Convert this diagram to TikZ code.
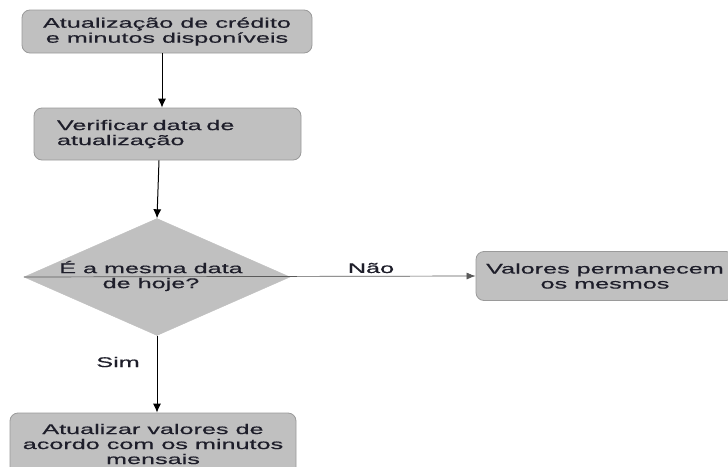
\documentclass[tikz,border=0pt]{standalone}
\usepackage{fontspec}
\setmainfont[FakeStretch=1.8,FakeBold=0.5]{Liberation Sans}
\usetikzlibrary{shapes.geometric,arrows.meta}
\definecolor{boxfill}{HTML}{C0C0C0}
\definecolor{boxline}{HTML}{9A9A9A}
\definecolor{ink}{HTML}{1E1E2A}
\definecolor{thinline}{HTML}{5A5A5A}
\begin{document}
\begin{tikzpicture}[x=1pt,y=1pt,
  txt/.style={font=\fontsize{14}{15}\selectfont, text=ink},
  box/.style={txt, draw=boxline, fill=boxfill, rounded corners=8pt, inner sep=0pt, line width=0.8pt},
  arr/.style={-{Latex[length=9pt,width=8pt]}, line width=1pt, black},
  thinarr/.style={-{Latex[length=9pt,width=7pt]}, line width=0.7pt, thinline}]
\clip (0,0) rectangle (728,-466);
\fill[white] (0,0) rectangle (728,-466);

% process boxes
\node[box, minimum width=290pt, minimum height=43pt, align=center] (upd) at (167,-31.5)
  {Atualização de crédito\\e minutos disponíveis};
\node[box, minimum height=52pt, text width=221pt, inner xsep=23pt, align=left] (chk) at (167.5,-134)
  {Verificar data de\\atualização};
\node[box, minimum width=258pt, minimum height=49pt, align=center] (keep) at (605,-276)
  {Valores permanecem\\os mesmos};
\node[box, minimum width=286pt, minimum height=62pt, align=center] (apply) at (153,-444)
  {Atualizar valores de\\acordo com os minutos\\mensais};

% decision
\node[diamond, fill=boxfill, draw=boxfill, minimum width=266pt, minimum height=117pt, inner sep=0pt] (dec) at (157,-277) {};

% connectors
\draw[arr] ([xshift=-5pt]upd.south) -- ([xshift=-5.5pt]chk.north);
\draw[arr] ([xshift=-8.5pt]chk.south) -- (dec.north);
\draw[arr] (dec.south) -- (dec.south |- apply.north);
\draw[thinarr] (dec.west) -- (keep.west);

% decision text and branch labels
\node[txt, align=center, inner sep=0pt] (dectext) at (151,-276) {É a mesma data\\de hoje?};
\node[txt, inner sep=0pt] (nao) at (371,-268) {Não};
\node[txt, inner sep=0pt] (sim) at (118,-362) {Sim};
\end{tikzpicture}
\end{document}
